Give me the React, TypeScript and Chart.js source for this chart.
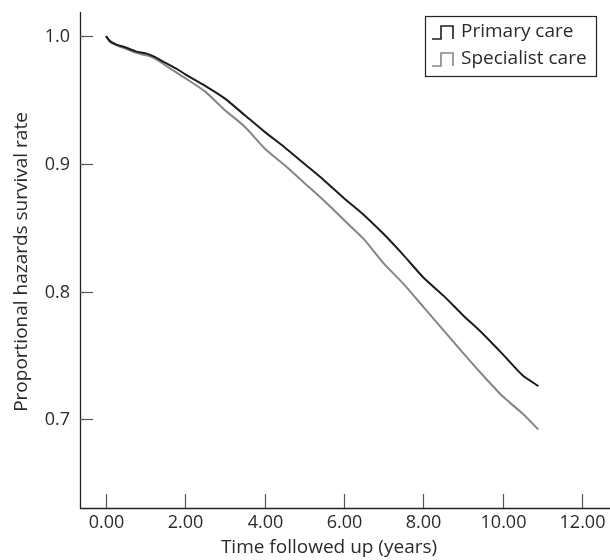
import React, { useEffect, useRef } from "react";
import { Chart, registerables } from "chart.js";

Chart.register(...registerables);

// ---- data ----
const years = [0, 0.1, 0.25, 0.5, 0.75, 1.0, 1.2, 1.5, 1.8, 2.0, 2.5, 3.0, 3.5, 4.0, 4.5, 5.0, 5.5, 6.0, 6.5, 7.0, 7.5, 8.0, 8.5, 9.0, 9.5, 10.0, 10.5, 10.9];
const primaryCare = [1.0, 0.996, 0.9935, 0.991, 0.988, 0.9864, 0.984, 0.979, 0.974, 0.97, 0.961, 0.951, 0.938, 0.925, 0.913, 0.9, 0.887, 0.873, 0.86, 0.845, 0.8285, 0.811, 0.797, 0.7815, 0.767, 0.751, 0.7345, 0.726];
const specialistCare = [1.0, 0.9955, 0.993, 0.99, 0.987, 0.985, 0.983, 0.977, 0.971, 0.967, 0.9565, 0.942, 0.929, 0.912, 0.899, 0.885, 0.871, 0.856, 0.841, 0.822, 0.806, 0.788, 0.77, 0.752, 0.7345, 0.718, 0.7045, 0.692];
const seriesLabels = ["Primary care", "Specialist care"];
const seriesColors = ["#1c1c1c", "#858585"];
const xTickValues = [0, 2, 4, 6, 8, 10, 12];
const yTickValues = [0.7, 0.8, 0.9, 1.0];
const xTitle = "Time followed up (years)";
const yTitle = "Proportional hazards survival rate";

const FONT = "'Open Sans', sans-serif";
const TEXT_COLOR = "#2a2a2a";

const axesPlugin = {
  id: "customAxes",
  afterDraw(chart: any) {
    const ctx: CanvasRenderingContext2D = chart.ctx;
    const xs = chart.scales.x;
    const ys = chart.scales.y;
    const { left, right, top, bottom } = chart.chartArea;
    ctx.save();

    // axis lines
    ctx.strokeStyle = "#222";
    ctx.lineWidth = 1.3;
    ctx.beginPath();
    ctx.moveTo(left + 0.5, top);
    ctx.lineTo(left + 0.5, bottom + 0.5);
    ctx.lineTo(right, bottom + 0.5);
    ctx.stroke();

    // y ticks (inward) and labels
    ctx.strokeStyle = "#555";
    ctx.lineWidth = 1.2;
    ctx.fillStyle = TEXT_COLOR;
    ctx.font = `18px ${FONT}`;
    ctx.textAlign = "right";
    ctx.textBaseline = "middle";
    for (const v of yTickValues) {
      const y = Math.round(ys.getPixelForValue(v)) + 0.5;
      ctx.beginPath();
      ctx.moveTo(left, y);
      ctx.lineTo(left + 13, y);
      ctx.stroke();
      ctx.fillText(v.toFixed(1), left - 10, y);
    }

    // x ticks (inward) and labels
    ctx.textAlign = "center";
    ctx.textBaseline = "middle";
    for (const v of xTickValues) {
      const x = Math.round(xs.getPixelForValue(v)) + 0.5;
      ctx.beginPath();
      ctx.moveTo(x, bottom);
      ctx.lineTo(x, bottom - 14);
      ctx.stroke();
      ctx.fillText(v.toFixed(2), x, bottom + 15);
    }

    // titles
    ctx.font = `19px ${FONT}`;
    ctx.fillText(xTitle, 329, bottom + 40);
    ctx.save();
    ctx.translate(22, 262);
    ctx.rotate(-Math.PI / 2);
    ctx.fillText(yTitle, 0, 0);
    ctx.restore();

    // legend
    const bx = 425.5, by = 16.5, bw = 171, bh = 60;
    ctx.fillStyle = "#fff";
    ctx.fillRect(bx, by, bw, bh);
    ctx.strokeStyle = "#222";
    ctx.lineWidth = 1.2;
    ctx.strokeRect(bx, by, bw, bh);
    const rows = [32, 59];
    chart.data.datasets.forEach((ds: any, i: number) => {
      const cy = rows[i];
      const yb = cy + 7, yt = cy - 6;
      ctx.strokeStyle = ds.borderColor;
      ctx.lineWidth = 1.6;
      ctx.beginPath();
      ctx.moveTo(432, yb);
      ctx.lineTo(441, yb);
      ctx.lineTo(441, yt);
      ctx.lineTo(453, yt);
      ctx.lineTo(453, yb);
      ctx.stroke();
      ctx.fillStyle = TEXT_COLOR;
      ctx.textAlign = "left";
      ctx.textBaseline = "middle";
      ctx.font = `19px ${FONT}`;
      ctx.fillText(ds.label, 461, cy);
    });
    ctx.restore();
  },
};

export default function App() {
  const canvasRef = useRef<HTMLCanvasElement | null>(null);

  useEffect(() => {
    if (!canvasRef.current) return;
    const chart = new Chart(canvasRef.current, {
      type: "line",
      data: {
        datasets: [
          {
            label: seriesLabels[0],
            data: years.map((x, i) => ({ x, y: primaryCare[i] })),
            borderColor: seriesColors[0],
            borderWidth: 2,
            pointRadius: 0,
            tension: 0.2,
            fill: false,
          },
          {
            label: seriesLabels[1],
            data: years.map((x, i) => ({ x, y: specialistCare[i] })),
            borderColor: seriesColors[1],
            borderWidth: 2,
            pointRadius: 0,
            tension: 0.2,
            fill: false,
          },
        ],
      },
      options: {
        responsive: false,
        animation: false,
        devicePixelRatio: 1,
        layout: { padding: { left: 80, right: 0, top: 12, bottom: 52 } },
        plugins: { legend: { display: false }, tooltip: { enabled: false } },
        scales: {
          x: { type: "linear", min: -0.6555, max: 12.706, display: false },
          y: { type: "linear", min: 0.6306, max: 1.0188, display: false },
        },
      },
      plugins: [axesPlugin],
    });
    return () => chart.destroy();
  }, []);

  return (
    <div style={{ position: "absolute", left: 0, top: 0, width: 610, height: 560, background: "#fff" }}>
      <canvas ref={canvasRef} width={610} height={560} />
    </div>
  );
}
